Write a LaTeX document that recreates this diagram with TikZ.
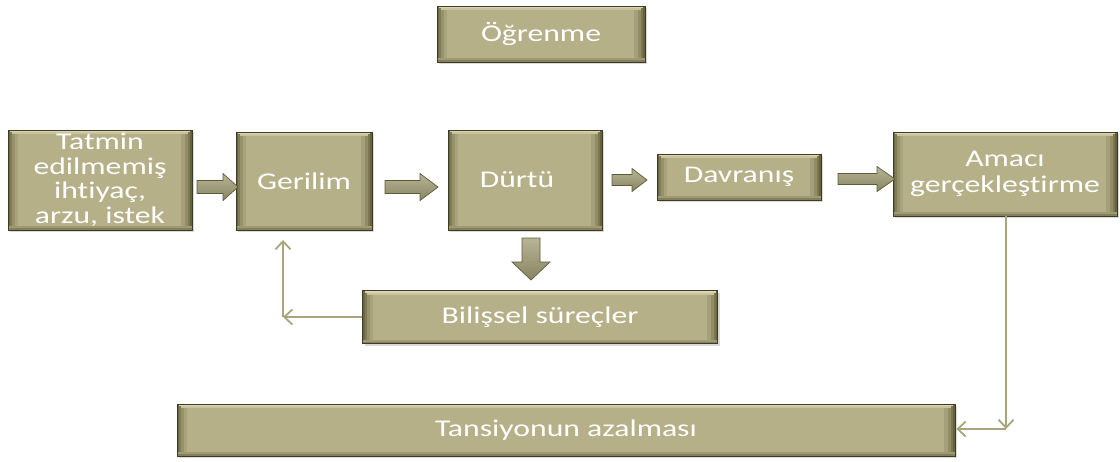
\documentclass[tikz,border=0pt]{standalone}
\usepackage{fontspec}
\newfontfamily\boxfam{Carlito}[FakeStretch=1.32,Ligatures=NoCommon]
\usetikzlibrary{shadows,arrows.meta}
\definecolor{boxfill}{RGB}{181,176,136}
\definecolor{bevdark}{RGB}{92,89,54}
\definecolor{bevlight}{RGB}{217,213,181}
\definecolor{boxedge}{RGB}{62,60,36}
\definecolor{arrowfill}{RGB}{160,156,114}
\definecolor{arrowedge}{RGB}{94,90,58}
\definecolor{connc}{RGB}{168,164,126}
\newcommand{\boxfont}{\boxfam\fontsize{24}{24.5}\selectfont}
\tikzset{
 box/.style={draw=boxedge, line width=0.8pt, fill=boxfill, text=white, align=center,
   inner sep=2pt, font=\boxfont,
   drop shadow={opacity=0.3, shadow xshift=2pt, shadow yshift=-2pt},
   path picture={
     \fill[bevdark!85!boxfill] (path picture bounding box.south west) rectangle ([xshift=2pt]path picture bounding box.north west);
     \fill[bevdark!60!boxfill] ([xshift=2pt]path picture bounding box.south west) rectangle ([xshift=4pt]path picture bounding box.north west);
     \fill[bevdark!35!boxfill] ([xshift=4pt]path picture bounding box.south west) rectangle ([xshift=7pt]path picture bounding box.north west);
     \fill[bevdark!15!boxfill] ([xshift=7pt]path picture bounding box.south west) rectangle ([xshift=10pt]path picture bounding box.north west);
     \fill[bevdark!90!boxfill] ([xshift=-2pt]path picture bounding box.south east) rectangle (path picture bounding box.north east);
     \fill[bevdark!65!boxfill] ([xshift=-4pt]path picture bounding box.south east) rectangle ([xshift=-2pt]path picture bounding box.north east);
     \fill[bevdark!40!boxfill] ([xshift=-7pt]path picture bounding box.south east) rectangle ([xshift=-4pt]path picture bounding box.north east);
     \fill[bevdark!18!boxfill] ([xshift=-11pt]path picture bounding box.south east) rectangle ([xshift=-7pt]path picture bounding box.north east);
     \fill[bevlight] ([xshift=2pt]path picture bounding box.north west) rectangle ([xshift=-2pt,yshift=-2pt]path picture bounding box.north east);
     \fill[bevlight!50!boxfill] ([xshift=4pt,yshift=-2pt]path picture bounding box.north west) rectangle ([xshift=-4pt,yshift=-4pt]path picture bounding box.north east);
     \fill[bevdark!55!boxfill] (path picture bounding box.south west) rectangle ([yshift=2pt]path picture bounding box.south east);
     \fill[bevdark!25!boxfill] ([yshift=2pt]path picture bounding box.south west) rectangle ([yshift=4pt]path picture bounding box.south east);
   }},
 barrowst/.style={draw=arrowedge, line width=0.7pt, top color=arrowfill!75!white, bottom color=arrowfill!85!black},
 pics/barr/.style args={#1/#2/#3/#4}{code={
   \path[barrowst] (0,-#2/2) -- (#1-#4,-#2/2) -- (#1-#4,-#3/2) -- (#1,0) -- (#1-#4,#3/2) -- (#1-#4,#2/2) -- (0,#2/2) -- cycle;}},
 conn/.style={draw=connc, line width=1.8pt, -{Straight Barb[length=8pt,width=15pt]}},
}
\begin{document}
\begin{tikzpicture}[x=1pt,y=-1pt]
\useasboundingbox (0,0) rectangle (1120,461);
\node[box, minimum width=208, minimum height=56] (ogr) at (541,34) {Öğrenme};
\node[box, minimum width=184, minimum height=100] (tat) at (100,180) {Tatmin\\edilmemiş\\ihtiyaç,\\arzu, istek};
\node[box, minimum width=136, minimum height=98] (ger) at (304,181) {Gerilim};
\node[box, minimum width=154, minimum height=100] (dur) at (525,180) {Dürtü\hspace*{16pt}};
\node[box, minimum width=164, minimum height=46] (dav) at (739,177) {Davranış};
\node[box, minimum width=224, minimum height=84, font=\boxfam\fontsize{24}{26}\selectfont] (ama) at (1005,174) {Amacı\\gerçekleştirme};
\node[box, minimum width=355, minimum height=53] (bil) at (540,317) {Bilişsel süreçler};
\node[box, minimum width=778, minimum height=52] (tan) at (566,430) {Tansiyonun azalması};
% block arrows
\pic (a1) at (197,187) {barr={41/13/27/15}};
\pic (a2) at (385,187) {barr={53/13/27/18}};
\pic (a3) at (612,180) {barr={35/11/23/15}};
\pic (a4) at (838,179) {barr={57/11/25/18}};
\pic[rotate=-90] (ad) at (531,238) {barr={42/18/38/18}};
% thin connectors
\coordinate (g1) at (283,240);
\coordinate (c1) at (g1 |- bil.west);
\draw[conn] (bil.west) -- (c1);
\draw[conn] (c1) -- (g1);
\coordinate (c2) at (1006,429);
\draw[conn] (ama.south -| c2) -- (c2);
\draw[conn] (c2) -- ([xshift=1pt]tan.east |- c2);
\end{tikzpicture}
\end{document}
